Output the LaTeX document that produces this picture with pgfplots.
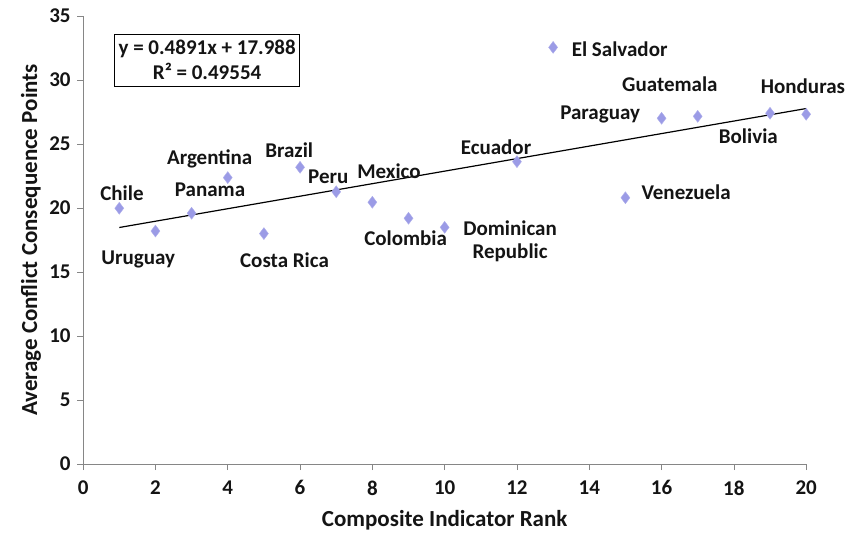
\documentclass[border=0pt]{standalone}
\usepackage{pgfplots}
\pgfplotsset{compat=1.18}
\usepackage{fontspec}
\setmainfont{Carlito}
\definecolor{axgray}{RGB}{134,134,134}
\definecolor{pt}{RGB}{155,155,230}
\definecolor{txt}{RGB}{20,20,20}
\begin{document}
\begin{tikzpicture}
\begin{axis}[
    scale only axis,
    width=723pt, height=448pt,
    xmin=0, xmax=20, ymin=0, ymax=35,
    xtick={0,2,...,20}, ytick={0,5,...,35},
    axis lines=left,
    axis line style={axgray, -},
    tick style={axgray, line width=0.6pt},
    tick align=outside,
    major tick length=6pt,
    clip=false,
    /pgf/number format/assume math mode=true,
    ticklabel style={font=\fontsize{21}{24}\selectfont\bfseries, text=txt},
    xticklabel style={yshift=-7pt},
    yticklabel style={xshift=-3pt},
    xlabel={Composite Indicator Rank},
    ylabel={Average Conflict Consequence Points},
    label style={font=\fontsize{23}{26}\selectfont\bfseries, text=txt},
    xlabel style={at={(rel axis cs:0.5,-0.125)}, anchor=center},
    ylabel style={at={(rel axis cs:-0.072,0.5)}, anchor=center, rotate=0},
]
% trendline y = 0.4891x + 17.988
\addplot[black, line width=1.2pt] coordinates {(1,18.477) (20,27.770)};

\addplot[only marks, mark=diamond*, mark size=6pt,
         mark options={fill=pt, draw=pt!80!white}] coordinates {
    (1,19.98) (2,18.20) (3,19.59) (4,22.37) (5,18.0) (6,23.18) (7,21.27)
    (8,20.45) (9,19.2) (10,18.49) (12,23.62) (13,32.55) (15,20.80)
    (16,27.01) (17,27.16) (19,27.40) (20,27.32)
};

\path (rel axis cs:-0.115,-0.1518) rectangle (rel axis cs:1.0786,1.0357);

\begin{scope}[every node/.style={font=\fontsize{21}{23}\selectfont\bfseries, text=txt, inner sep=0pt}]
\node at (axis cs:1.074,21.15) {Chile};
\node at (axis cs:1.525,15.94) {Uruguay};
\node at (axis cs:3.51,21.41) {Panama};
\node at (axis cs:3.50,23.80) {Argentina};
\node at (axis cs:5.57,15.94) {Costa Rica};
\node at (axis cs:5.70,24.48) {Brazil};
\node at (axis cs:6.78,22.45) {Peru};
\node at (axis cs:8.46,22.84) {Mexico};
\node at (axis cs:8.92,17.66) {Colombia};
\node[align=center] at (axis cs:11.81,17.42) {Dominican\\Republic};
\node at (axis cs:11.42,24.74) {Ecuador};
\node at (axis cs:14.84,32.42) {El Salvador};
\node at (axis cs:16.23,29.66) {Guatemala};
\node at (axis cs:14.30,27.27) {Paraguay};
\node at (axis cs:19.91,29.55) {Honduras};
\node at (axis cs:18.40,25.63) {Bolivia};
\node at (axis cs:16.68,21.20) {Venezuela};
\end{scope}
\node[draw=black, line width=0.9pt, align=center, inner xsep=4pt, inner ysep=6pt,
      font=\fontsize{21}{25}\selectfont\bfseries, text=txt]
  at (axis cs:3.43,31.54) {y = 0.4891x + 17.988\\R² = 0.49554};
\end{axis}
\end{tikzpicture}
\end{document}
